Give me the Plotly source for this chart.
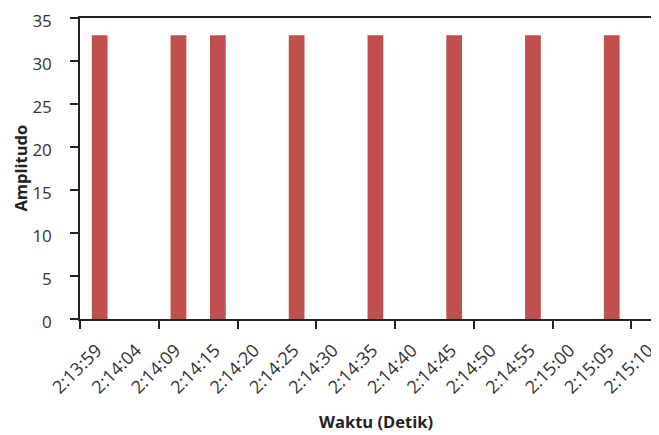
import plotly.graph_objects as go

categories = ["2:13:59", "2:14:04", "2:14:09", "2:14:15", "2:14:20", "2:14:25", "2:14:30",
              "2:14:35", "2:14:40", "2:14:45", "2:14:50", "2:14:55", "2:15:00", "2:15:05", "2:15:10"]
amplitudo = [33, None, 33, 33, None, 33, None, 33, None, 33, None, 33, None, 33, None]
y_ticks = [0, 5, 10, 15, 20, 25, 30, 35]
x_title = "Waktu (Detik)"
y_title = "Amplitudo"

xpos = list(range(len(categories)))

fig = go.Figure()
fig.add_trace(go.Bar(x=xpos, y=amplitudo, width=0.4, marker=dict(color="#C0504D", line=dict(width=0))))

font_family = "Open Sans, Liberation Sans, sans-serif"
# page body has an 8px default margin, so the figure is 8px smaller than the window
fig.update_layout(
    width=651, height=427,
    margin=dict(l=72, r=0, t=10, b=116),
    plot_bgcolor="white", paper_bgcolor="white",
    showlegend=False,
    font=dict(family=font_family, size=13, color="#333333"),
    xaxis=dict(
        range=[-0.5, 14.2],
        tickmode="array", tickvals=xpos, ticktext=categories,
        tickangle=-45, ticks="", ticklen=0,
        ticklabelstandoff=12, ticklabelshift=-3, ticklabeloverflow="allow",
        tickfont=dict(size=18, color="#333333"),
        showline=True, linecolor="#222222", linewidth=1.5, mirror=True,
        showgrid=False, zeroline=False, automargin=False,
        minor=dict(tick0=-0.5, dtick=2, ticks="outside", ticklen=8, tickcolor="#222222", tickwidth=1.5, showgrid=False),
    ),
    yaxis=dict(
        range=[0, 35],
        tickmode="array", tickvals=y_ticks,
        ticks="outside", ticklen=8, tickcolor="#222222", tickwidth=1.5,
        ticklabelstandoff=15, ticklabelshift=3, ticklabeloverflow="allow",
        tickfont=dict(size=17, color="#333333"),
        showline=True, linecolor="#222222", linewidth=1.5,
        showgrid=False, zeroline=False, automargin=False,
    ),
    annotations=[
        dict(text="<b>" + x_title + "</b>", xref="paper", yref="paper", x=0.511, y=-0.342,
             xanchor="center", yanchor="middle", showarrow=False,
             font=dict(size=16.5, color="#222222")),
        dict(text="<b>" + y_title + "</b>", xref="paper", yref="paper", x=-0.1036, y=0.5,
             xanchor="center", yanchor="middle", showarrow=False, textangle=-90,
             font=dict(size=16.5, color="#222222")),
    ],
)

fig.write_html("out.html")
